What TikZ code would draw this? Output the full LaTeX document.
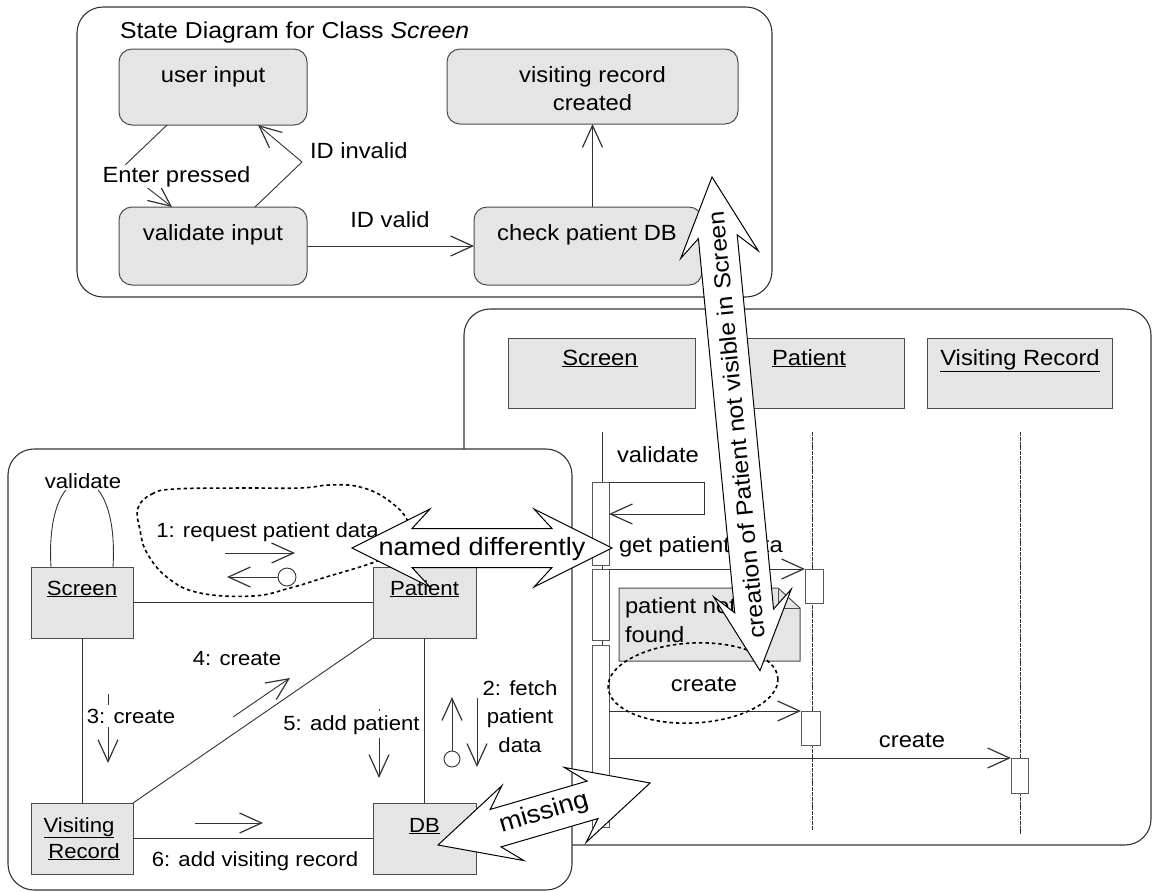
\documentclass[tikz,border=0pt]{standalone}
\usepackage{fontspec}
\setmainfont{Liberation Sans}[FakeStretch=1.08]
\usetikzlibrary{arrows.meta,calc}

\tikzset{
  every node/.style={inner sep=0pt, outer sep=0pt},
  txt/.style={font=\fontsize{22}{26}\selectfont},
  ctxt/.style={font=\fontsize{20.5}{24}\selectfont},
  ttl/.style={font=\fontsize{23}{27}\selectfont},
  bigtxt/.style={font=\fontsize{25}{30}\selectfont},
  crtxt/.style={font=\fontsize{23}{27}\selectfont},
  frame/.style={draw=black!80, line width=1.1pt, rounded corners=26pt, fill=white},
  statebox/.style={draw=black!70, line width=1pt, fill=black!10, rounded corners=13pt},
  objbox/.style={draw=black!70, line width=1pt, fill=black!10},
  actbox/.style={draw=black!65, line width=0.9pt, fill=white},
  conn/.style={draw=black!80, line width=0.9pt},
  msg/.style={conn, -{Straight Barb[length=22pt, width=20pt, line width=1.2pt]}},
  lifeline/.style={draw=black!80, line width=0.9pt},
  dlifeline/.style={lifeline, dash pattern=on 4pt off 0.8pt},
  dotline/.style={draw=black, line width=1.6pt, dash pattern=on 3.5pt off 3pt},
  cover/.style={fill=white, inner sep=2pt},
  blockarrow/.style={draw=black, line width=1pt, fill=white, line join=miter},
  endcircle/.style={draw=black!80, line width=0.9pt, fill=white, circle},
}

% double-headed block arrow: start tip, direction angle, length
\newcommand\dblblock[3]{%
  \begin{scope}[shift={#1}, rotate=#2]
    \draw[blockarrow] (0,0) -- (78,39) -- (60,19.5) -- ({#3-60},19.5) -- ({#3-78},39)
      -- (#3,0) -- ({#3-78},-39) -- ({#3-60},-19.5) -- (60,-19.5) -- (78,-39) -- cycle;
  \end{scope}}

\begin{document}
\begin{tikzpicture}[x=1pt,y=-1pt]
\useasboundingbox (0,0) rectangle (1152,892);

% ---------------- sequence diagram frame ----------------
\draw[frame] (464,309) rectangle (1151,845);

% ---------------- state diagram ----------------
\draw[frame] (77,7) rectangle (772,297);
\node[ttl, anchor=base west] (title) at (120,38) {State Diagram for Class \textit{Screen}};

\node[statebox, minimum width=188pt, minimum height=76pt] (ui) at (213,87) {};
\node[txt, anchor=base] (uit) at (213,82) {user input};
\node[statebox, minimum width=188pt, minimum height=78pt] (vi) at (213,246) {};
\node[txt, anchor=base] (vit) at (213,240) {validate input};
\node[statebox, minimum width=291pt, minimum height=75pt] (vr) at (592.5,86.5) {};
\node[txt, anchor=base] (vrt1) at (592.5,82) {visiting record};
\node[txt, anchor=base] (vrt2) at (592.5,110) {created};
\node[statebox, minimum width=228pt, minimum height=78pt] (cp) at (588,246) {};
\node[txt, anchor=base] (cpt) at (587,240) {check patient DB};

% transitions
\draw[msg] ($(ui.south)+(-46,0)$) -- (122,168) -- ($(vi.north)+(-41,0)$);
\node[txt, cover, inner sep=1pt, anchor=base] (enter) at (176.5,182) {Enter pressed};
\draw[msg] ($(vi.north)+(42,0)$) -- (302,162) -- ($(ui.south)+(45,0)$);
\node[txt, anchor=base west] (idinv) at (310,158) {ID invalid};
\draw[msg] (vi) -- (cp);
\node[txt, anchor=base] (idval) at (390,227) {ID valid};
\draw[msg] (vr.south |- cp.north) -- (vr.south);

% ---------------- sequence diagram ----------------
\node[objbox, minimum width=187pt, minimum height=70pt] (hs) at (601.5,373) {};
\node[txt, anchor=base] (hst) at (600,365) {\underline{Screen}};
\node[objbox, minimum width=161pt, minimum height=70pt] (hp) at (823.5,373) {};
\node[txt, anchor=base] (hpt) at (809,365) {\underline{Patient}};
\node[objbox, minimum width=185pt, minimum height=70pt] (hv) at (1019.5,373) {};
\node[txt, anchor=base] (hvt) at (1020,365) {\underline{Visiting Record}};

\coordinate (ls0) at (602,432);  \coordinate (ls1) at (602,827);
\coordinate (lp0) at (812,432);  \coordinate (lp1) at (812,830);
\coordinate (lv0) at (1020,432); \coordinate (lv1) at (1020,835);
\draw[lifeline] (ls0) -- (ls1);
\draw[dlifeline] (lp0) -- (lp1);
\draw[dlifeline] (lv0) -- (lv1);

\node[actbox, minimum width=17pt, minimum height=83pt] (s1) at (600.5,523.5) {};
\node[actbox, minimum width=17pt, minimum height=71pt] (s2) at (600.5,604.5) {};
\node[actbox, minimum width=17pt, minimum height=182pt] (s3) at (600.5,736) {};
\node[actbox, minimum width=18pt, minimum height=34pt] (p1) at (814,586) {};
\node[actbox, minimum width=19pt, minimum height=34pt] (p2) at (810.5,728) {};
\node[actbox, minimum width=17pt, minimum height=35pt] (v1) at (1019.5,775.5) {};

% messages
\draw[msg] (s1.north east) -- ++(95,0) -- ++(0,32) -- ($(s1.north east)+(0,32)$);
\node[txt, anchor=base] (mval) at (658,462) {validate};
\draw[msg] (s2.north east) -- (p1.north west);
\node[txt, anchor=base west] (mget) at (619,552) {get patient data};

% note
\draw[objbox] (619,588) -- (778,588) -- (800,608) -- (800,661) -- (619,661) -- cycle;
\draw[draw=black!70, line width=1pt] (778,588) -- (778,608) -- (800,608);
\node[txt, anchor=base west] (note1) at (625,613) {patient not};
\node[txt, anchor=base west] (note2) at (625,642) {found};

\draw[msg] (s3.east |- p2.north) -- (p2.north west);
\node[txt, anchor=base] (mcp) at (704,691) {create};
\draw[dotline, rotate around={3:(693,683)}] (693,683) ellipse [x radius=85, y radius=40];
\draw[msg] (s3.east |- v1.north) -- (v1.north west);
\node[txt, anchor=base] (mcv) at (912,747) {create};

% ---------------- collaboration diagram ----------------
\draw[frame] (8,449) rectangle (572,890);

\node[objbox, minimum width=102pt, minimum height=71pt] (so) at (82,602.5) {};
\node[ctxt, anchor=base] (sot) at (82,595) {\underline{Screen}};
\node[objbox, minimum width=103pt, minimum height=71pt] (po) at (424.5,602.5) {};
\node[ctxt, anchor=base] (pot) at (424.5,595) {\underline{Patient}};
\node[objbox, minimum width=102pt, minimum height=71pt] (vro) at (82,838.5) {};
\node[ctxt, anchor=base] (vrot1) at (79,832) {\underline{Visiting}};
\node[ctxt, anchor=base] (vrot2) at (84,858) {\underline{Record}};
\node[objbox, minimum width=103pt, minimum height=71pt] (dbo) at (424.5,838.5) {};
\node[ctxt, anchor=base] (dbot) at (424.5,832) {\underline{DB}};

% links
\draw[conn] (so) -- (po);
\draw[conn] (so) -- (vro);
\draw[conn] (po) -- (dbo);
\draw[conn] (vro) -- (dbo);
\draw[conn] (vro.north east) -- (po.south west);
\draw[conn] ($(so.north)+(-31,0)$) .. controls ($(so.north)+(-38,-115)$) and ($(so.north)+(38,-115)$) .. ($(so.north)+(31,0)$);
\node[ctxt, cover, anchor=base] (cval) at (83,488) {validate};

% message 1
\node[ctxt, anchor=base] (m1) at (267.5,537) {1: request patient data};
\draw[msg] (225,553) -- (295,553);
\node[endcircle, minimum size=18pt] (c1) at (287,577) {};
\draw[msg] (c1) -- (227,577);
\draw[dotline] plot[smooth cycle, tension=0.7] coordinates {(138,508) (152,494) (175,489) (240,488) (300,488) (330,485) (360,487) (388,500) (408,522) (405,545) (380,560) (323,578) (290,588) (253,596) (200,593) (168,578) (147,553) (140,530)};

% messages 3, 4, 5
\draw[msg] (108,694) -- (108,763);
\node[ctxt, cover, inner sep=4pt, anchor=base] (m3) at (131,723) {3: create};
\node[ctxt, anchor=base] (m4) at (237,665) {4: create};
\draw[msg] (233,717) -- (290,678);
\draw[msg] (379,709) -- (379,778);
\node[ctxt, cover, inner sep=4pt, anchor=base] (m5) at (351.5,730) {5: add patient};

% message 2
\node[ctxt, anchor=base] (m2a) at (520,695) {2: fetch};
\node[ctxt, anchor=base] (m2b) at (520,723) {patient};
\node[ctxt, anchor=base] (m2c) at (520,752) {data};
\draw[msg] (477,698) -- (477,767);
\node[endcircle, minimum size=16pt] (c2) at (452,759) {};
\draw[msg] (c2) -- (452,697);

% message 6
\draw[msg] (195,823) -- (263,823);
\node[ctxt, anchor=base] (m6) at (255,866) {6: add visiting record};

% ---------------- annotations ----------------
\dblblock{(352,548)}{0}{260}
\node[bigtxt] (named) at (482,549) {named differently};

\dblblock{(438,845)}{16.3}{221}
\node[bigtxt, rotate=16.3] (missing) at (544,813) {missing};

\dblblock{(712,177)}{-84.45}{496}
\node[crtxt, rotate=95.55] (creation) at (736,425) {creation of Patient not visible in Screen};

\end{tikzpicture}
\end{document}
